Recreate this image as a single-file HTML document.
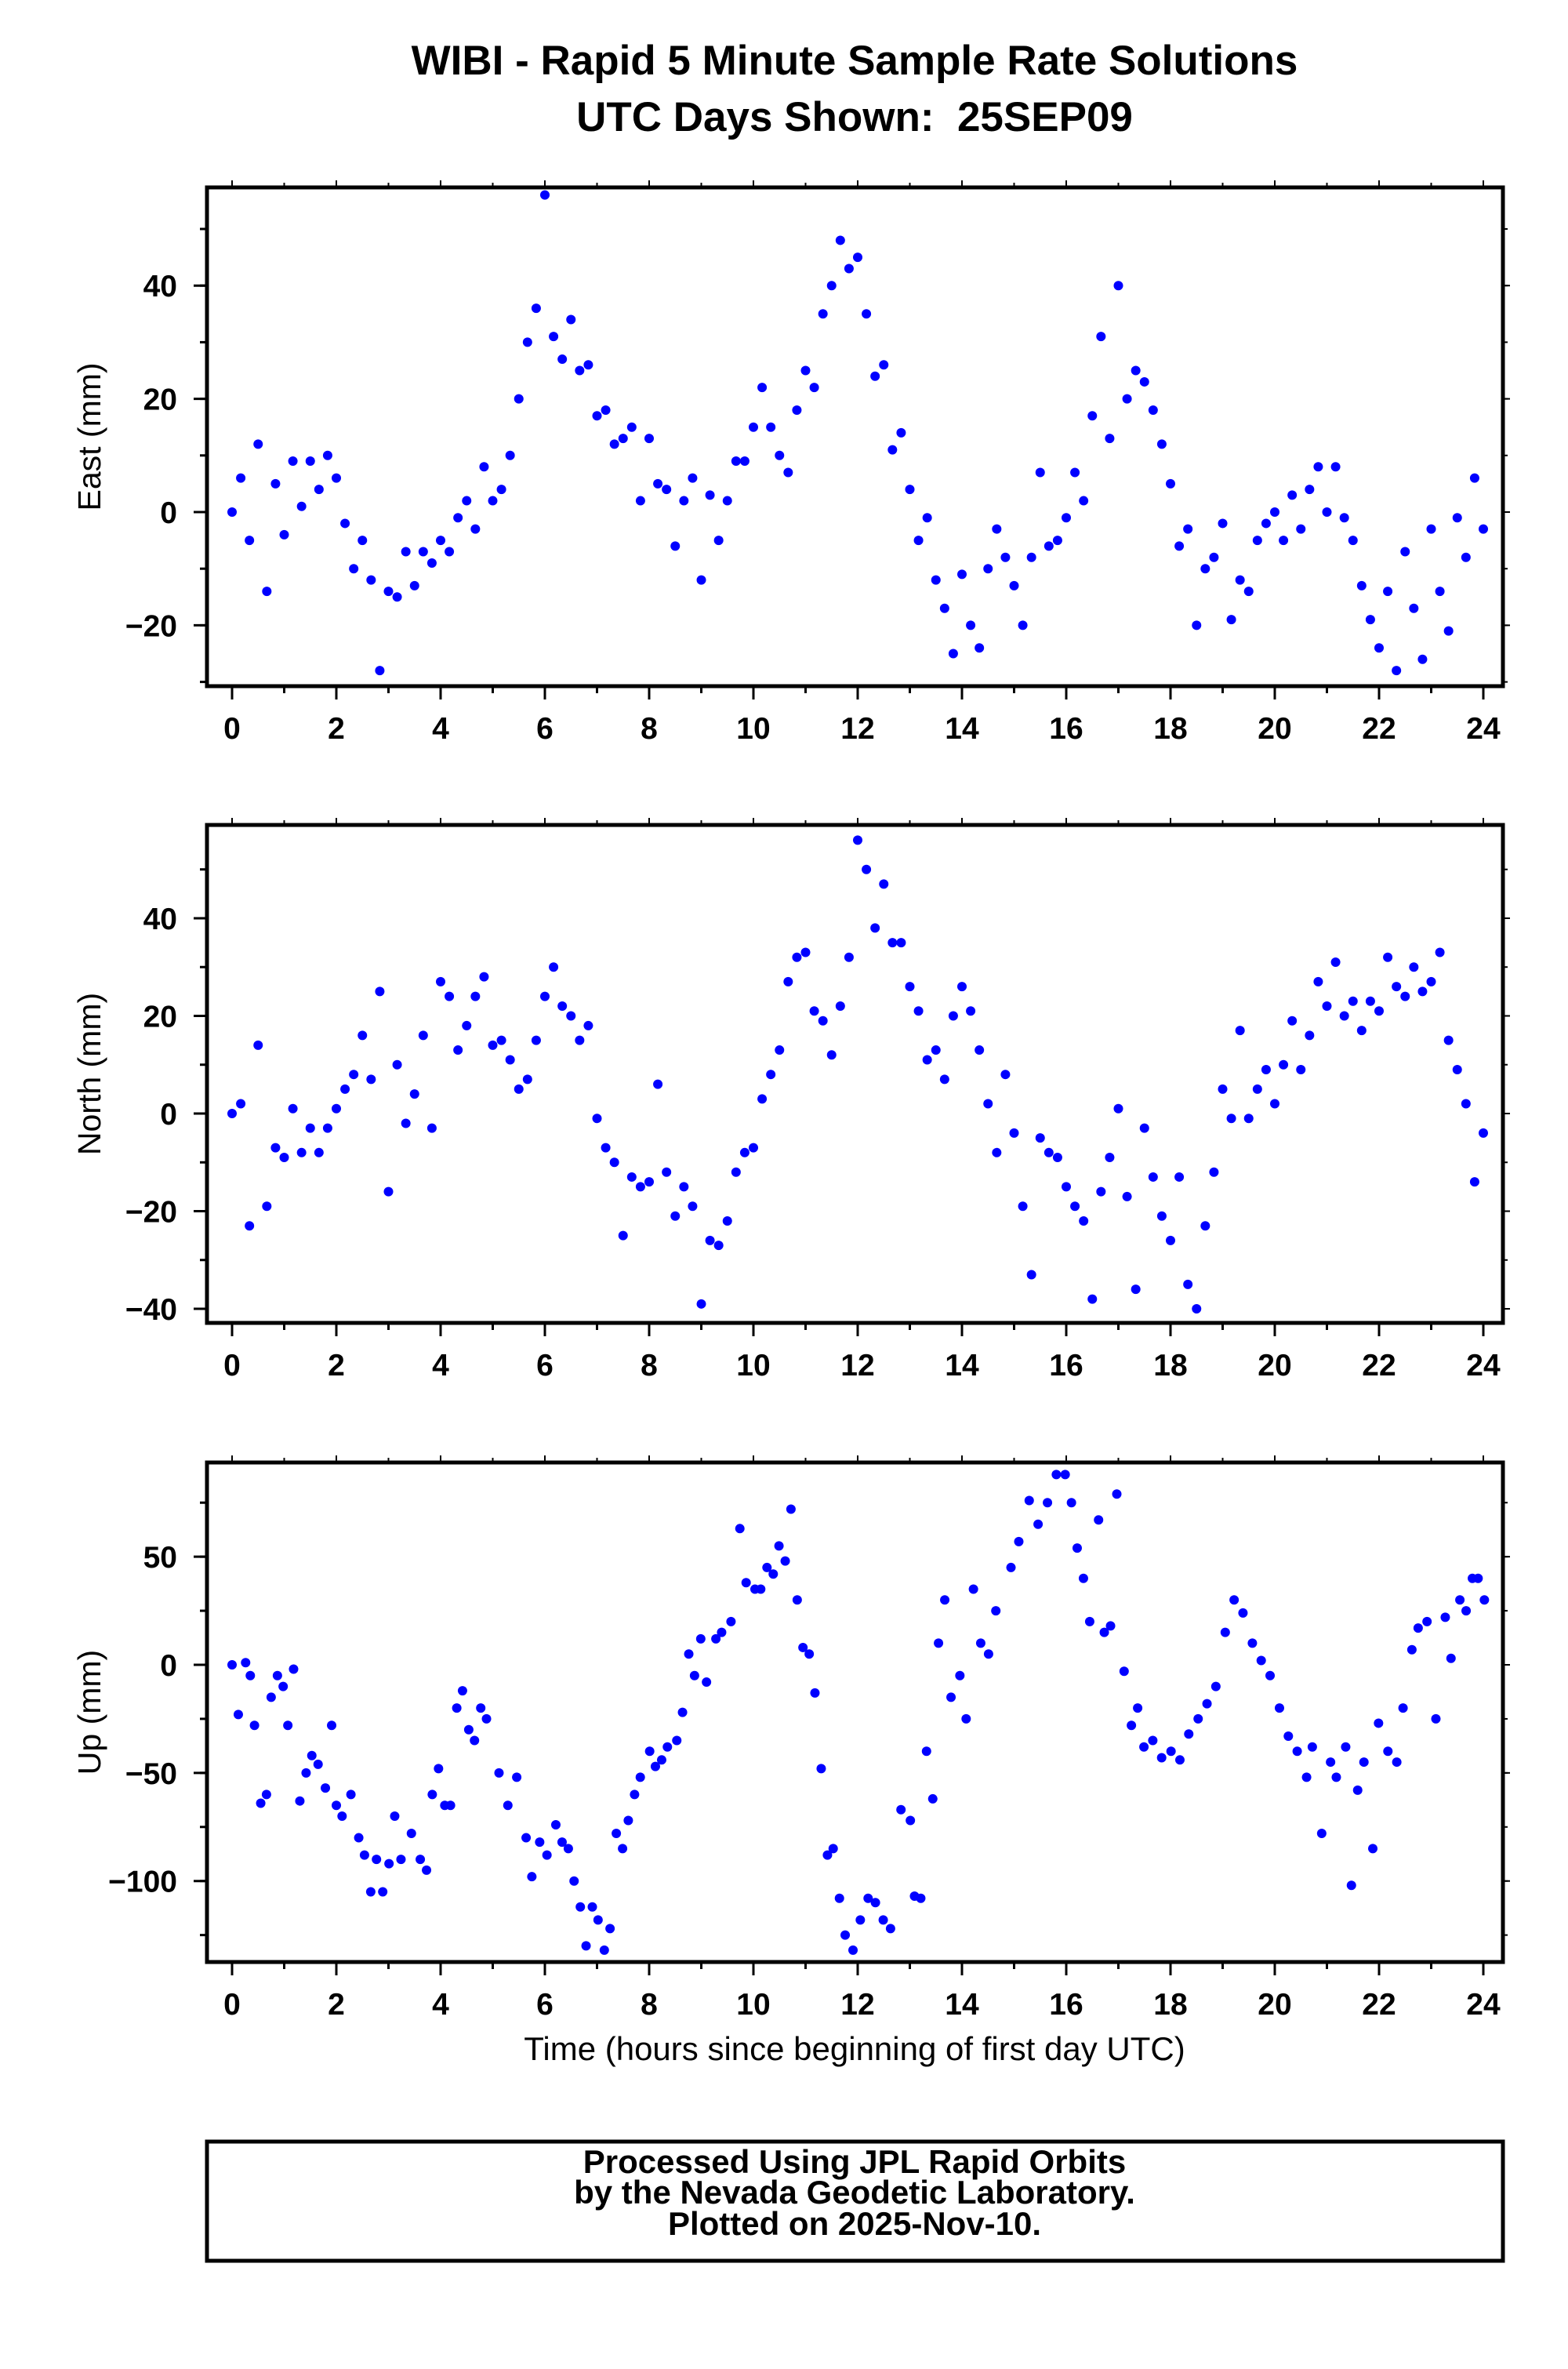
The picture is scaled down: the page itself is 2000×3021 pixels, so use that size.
<!DOCTYPE html>
<html><head><meta charset="utf-8"><style>
html,body{margin:0;padding:0;background:#fff;}
svg{display:block;font-family:"Liberation Sans",sans-serif;}
</style></head><body>
<svg id="chart" width="2000" height="3021" viewBox="0 0 2000 3021" xmlns="http://www.w3.org/2000/svg">
<text x="1090" y="95" font-size="53" font-weight="bold" text-anchor="middle">WIBI - Rapid 5 Minute Sample Rate Solutions</text>
<text x="1090" y="167" font-size="53" font-weight="bold" text-anchor="middle" xml:space="preserve">UTC Days Shown:&#160; 25SEP09</text>
<text x="1090" y="2627" font-size="42" text-anchor="middle">Time (hours since beginning of first day UTC)</text>
<rect x="264" y="2731" width="1653" height="152" fill="none" stroke="#000" stroke-width="5"/>
<text x="1090" y="2771" font-size="42" font-weight="bold" text-anchor="middle">Processed Using JPL Rapid Orbits</text>
<text x="1090" y="2810" font-size="42" font-weight="bold" text-anchor="middle">by the Nevada Geodetic Laboratory.</text>
<text x="1090" y="2850" font-size="42" font-weight="bold" text-anchor="middle">Plotted on 2025-Nov-10.</text>
</svg>
<script>
const xTicks = [0,2,4,6,8,10,12,14,16,18,20,22,24];
const eastTicks = [-20,0,20,40];
const northTicks = [-40,-20,0,20,40];
const upTicks = [-100,-50,0,50];
const eastValues = [0,6,-5,12,-14,5, -4,9,1,9,4,10, 6,-2,-10,-5,-12,-28, -14,-15,-7,-13,-7,-9, -5,-7,-1,2,-3,8, 2,4,10,20,30,36, 56,31,27,34,25,26, 17,18,12,13,15,2, 13,5,4,-6,2,6, -12,3,-5,2,9,9, 15,22,15,10,7,18, 25,22,35,40,48,43, 45,35,24,26,11,14, 4,-5,-1,-12,-17,-25, -11,-20,-24,-10,-3,-8, -13,-20,-8,7,-6,-5, -1,7,2,17,31,13, 40,20,25,23,18,12, 5,-6,-3,-20,-10,-8, -2,-19,-12,-14,-5,-2, 0,-5,3,-3,4,8, 0,8,-1,-5,-13,-19, -24,-14,-28,-7,-17,-26, -3,-14,-21,-1,-8,6, -3];
const northValues = [0,2,-23,14,-19,-7, -9,1,-8,-3,-8,-3, 1,5,8,16,7,25, -16,10,-2,4,16,-3, 27,24,13,18,24,28, 14,15,11,5,7,15, 24,30,22,20,15,18, -1,-7,-10,-25,-13,-15, -14,6,-12,-21,-15,-19, -39,-26,-27,-22,-12,-8, -7,3,8,13,27,32, 33,21,19,12,22,32, 56,50,38,47,35,35, 26,21,11,13,7,20, 26,21,13,2,-8,8, -4,-19,-33,-5,-8,-9, -15,-19,-22,-38,-16,-9, 1,-17,-36,-3,-13,-21, -26,-13,-35,-40,-23,-12, 5,-1,17,-1,5,9, 2,10,19,9,16,27, 22,31,20,23,17,23, 21,32,26,24,30,25, 27,33,15,9,2,-14, -4];
const upTimes = [0,.12,.26,.35,.43,.55,.66,.75,.87,.98,1.07,1.18,1.3,1.42,1.53,1.65,1.79,1.91,2.0,2.11,2.28,2.43,2.54,2.66,2.77,2.89,3.01,3.12,3.24,3.44,3.61,3.73,3.84,3.96,4.08,4.19,4.31,4.42,4.54,4.65,4.77,4.88,5.12,5.29,5.46,5.64,5.75,5.9,6.04,6.21,6.33,6.45,6.56,6.68,6.79,6.91,7.02,7.14,7.25,7.37,7.49,7.6,7.72,7.83,8.01,8.12,8.24,8.35,8.53,8.64,8.76,8.87,8.99,9.1,9.28,9.39,9.57,9.74,9.86,10.03,10.14,10.26,10.38,10.49,10.61,10.72,10.84,10.95,11.07,11.18,11.3,11.42,11.53,11.65,11.76,11.91,12.05,12.2,12.34,12.49,12.63,12.83,13.01,13.09,13.21,13.32,13.44,13.55,13.67,13.79,13.96,14.08,14.22,14.36,14.51,14.65,14.94,15.09,15.29,15.46,15.64,15.81,15.98,16.1,16.21,16.33,16.45,16.62,16.73,16.85,16.97,17.11,17.25,17.37,17.49,17.66,17.83,18.01,18.18,18.35,18.53,18.7,18.87,19.05,19.22,19.39,19.57,19.74,19.91,20.09,20.26,20.43,20.61,20.72,20.9,21.07,21.18,21.36,21.47,21.59,21.71,21.88,21.99,22.17,22.34,22.46,22.63,22.75,22.92,23.09,23.27,23.38,23.55,23.67,23.79,23.9,24.02];
const upValues = [0,-23,1,-5,-28,-64,-60,-15,-5,-10,-28,-2,-63,-50,-42,-46,-57,-28,-65,-70,-60,-80,-88,-105,-90,-105,-92,-70,-90,-78,-90,-95,-60,-48,-65,-65,-20,-12,-30,-35,-20,-25,-50,-65,-52,-80,-98,-82,-88,-74,-82,-85,-100,-112,-130,-112,-118,-132,-122,-78,-85,-72,-60,-52,-40,-47,-44,-38,-35,-22,5,-5,12,-8,12,15,20,63,38,35,35,45,42,55,48,72,30,8,5,-13,-48,-88,-85,-108,-125,-132,-118,-108,-110,-118,-122,-67,-72,-107,-108,-40,-62,10,30,-15,-5,-25,35,10,5,25,45,57,76,65,75,88,88,75,54,40,20,67,15,18,79,-3,-28,-20,-38,-35,-43,-40,-44,-32,-25,-18,-10,15,30,24,10,2,-5,-20,-33,-40,-52,-38,-78,-45,-52,-38,-102,-58,-45,-85,-27,-40,-45,-20,7,17,20,-25,22,3,30,25,40,40,30];

const NS = "http://www.w3.org/2000/svg";
const svg = document.getElementById('chart');
const X0 = 296, XPH = 66.5, LEFT = 264, RIGHT = 1917;
function xScale(h){ return X0 + h*XPH; }
function mk(tag, attrs){ const e=document.createElementNS(NS,tag); for(const k in attrs) e.setAttribute(k,attrs[k]); svg.appendChild(e); return e; }

function panel(name, label, values, times, ticks, minorStep, top, bottom, zeroY, pxPerMm, ymin, ymax){
  const yScale = v => zeroY - v*pxPerMm;
  const n = times ? Math.min(values.length, times.length) : values.length;
  for(let i=0;i<n;i++){
    const t = times ? times[i] : i*24/(n-1);
    const c = mk('circle',{cx:xScale(t),cy:yScale(values[i]),r:6,fill:'#0000ff'});
    
    
  }
  for(let h=0;h<=24;h++){
    const big = h%2===0;
    const tb = mk('line',{x1:xScale(h),x2:xScale(h),y1:bottom,y2:bottom+(big?17:9),stroke:'#000','stroke-width':3});
    
    
    const tt = mk('line',{x1:xScale(h),x2:xScale(h),y1:top,y2:top-(big?9:6),stroke:'#000','stroke-width':2});
    
    
  }
  xTicks.forEach(h=>{
    const t = mk('text',{x:xScale(h),y:bottom+67,'font-size':39,'font-weight':'bold','text-anchor':'middle'});
    t.textContent = h;
    
    
  });
  for(let v=Math.ceil(ymin/minorStep)*minorStep; v<=ymax; v+=minorStep){
    const y=yScale(v);
    const l = mk('line',{x1:LEFT-9,x2:LEFT,y1:y,y2:y,stroke:'#000','stroke-width':3});
    
    
    const r = mk('line',{x1:RIGHT,x2:RIGHT+6,y1:y,y2:y,stroke:'#000','stroke-width':2});
    
    
  }
  ticks.forEach(v=>{
    const y=yScale(v);
    const l = mk('line',{x1:LEFT-17,x2:LEFT,y1:y,y2:y,stroke:'#000','stroke-width':3});
    
    
    const r = mk('line',{x1:RIGHT,x2:RIGHT+9,y1:y,y2:y,stroke:'#000','stroke-width':2});
    
    
    const t = mk('text',{x:226,y:y+14,'font-size':39,'font-weight':'bold','text-anchor':'end'});
    t.textContent = v===0?'0':(v<0?'\u2212'+(-v):v);
    
    
  });
  const fr = mk('rect',{x:LEFT,y:top,width:RIGHT-LEFT,height:bottom-top,fill:'none',stroke:'#000','stroke-width':5});
  
  
  const cy=(top+bottom)/2;
  const yl = mk('text',{x:0,y:0,'font-size':41,'text-anchor':'middle',transform:`translate(128,${cy}) rotate(-90)`});
  yl.textContent = label;
  
  
}
panel('east','East (mm)',eastValues,null,eastTicks,10,239,875,653,7.22,-30,57);
panel('north','North (mm)',northValues,null,northTicks,10,1052,1687,1420,6.226,-42,59);
panel('up','Up (mm)',upValues,upTimes,upTicks,25,1865,2502,2123,2.757,-137,93);
</script>
</body></html>
